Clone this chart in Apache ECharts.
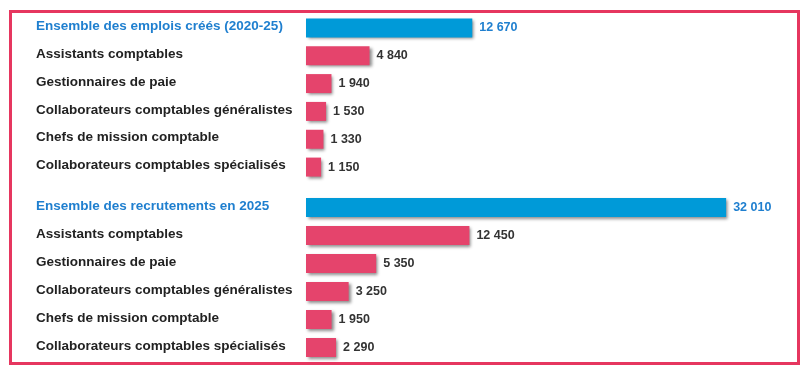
<!DOCTYPE html>
<html><head><meta charset="utf-8">
<script src="https://cdn.jsdelivr.net/npm/echarts@6/dist/echarts.min.js"></script>
<style>html,body{margin:0;padding:0;background:#fff}#c{width:807px;height:374px}</style>
</head><body><div id="c"></div>
<script>
const categories1 = ["Ensemble des emplois créés (2020-25)","Assistants comptables","Gestionnaires de paie","Collaborateurs comptables généralistes","Chefs de mission comptable","Collaborateurs comptables spécialisés"];
const values1 = [12670, 4840, 1940, 1530, 1330, 1150];
const categories2 = ["Ensemble des recrutements en 2025","Assistants comptables","Gestionnaires de paie","Collaborateurs comptables généralistes","Chefs de mission comptable","Collaborateurs comptables spécialisés"];
const values2 = [32010, 12450, 5350, 3250, 1950, 2290];

const BLUE = '#009ad8', PINK = '#e5446c', BLUE_TXT = '#1f7fcf', DARK = '#333333';
const FF = 'Liberation Sans, Arial';
const fmt = v => String(v).replace(/\B(?=(\d{3})+(?!\d))/g, ' ');
const shadow = {shadowColor:'rgba(0,0,0,0.45)', shadowBlur:3, shadowOffsetX:2, shadowOffsetY:2};
function mk(vals){
  return vals.map((v,i)=>({
    value:v,
    itemStyle:Object.assign({color: i===0?BLUE:PINK}, shadow),
    label:{color: i===0?BLUE_TXT:DARK}
  }));
}
function yAx(idx, cats){
  return {type:'category', gridIndex:idx, data:cats, inverse:true,
    axisLine:{show:false}, axisTick:{show:false},
    axisLabel:{align:'left', margin:270, fontFamily:FF, fontWeight:'bold', fontSize:13.5,
      color:DARK, formatter:(v,i)=> i===0?'{h|'+v+'}':'{n|'+v+'}',
      rich:{h:{color:BLUE_TXT,fontWeight:'bold',fontSize:13.5,fontFamily:FF, padding:[0,0,3,0]},
            n:{color:'#222',fontWeight:'bold',fontSize:13.5,fontFamily:FF, padding:[0,0,3,0]}}}};
}
function xAx(idx){
  return {type:'value', gridIndex:idx, min:0, max:36000, show:false, splitLine:{show:false}};
}
const labelCfg = {show:true, position:'right', distance:7, fontFamily:FF, fontWeight:'bold', fontSize:12.5, formatter:p=>fmt(p.value)};
const chart = echarts.init(document.getElementById('c'), null, {renderer:'canvas'});
chart.setOption({
  animation:false,
  grid:[{left:306, width:472.5, top:14, height:167},{left:306, width:472.5, top:193.5, height:168}],
  xAxis:[xAx(0), xAx(1)],
  yAxis:[yAx(0,categories1), yAx(1,categories2)],
  series:[
    {type:'bar', xAxisIndex:0, yAxisIndex:0, data:mk(values1), barWidth:19, label:labelCfg},
    {type:'bar', xAxisIndex:1, yAxisIndex:1, data:mk(values2), barWidth:19, label:labelCfg}
  ],
  graphic:[{type:'rect', shape:{x:10.5, y:11.5, width:788, height:352}, style:{fill:null, stroke:'#e6365f', lineWidth:3}, silent:true}]
});
</script></body></html>
